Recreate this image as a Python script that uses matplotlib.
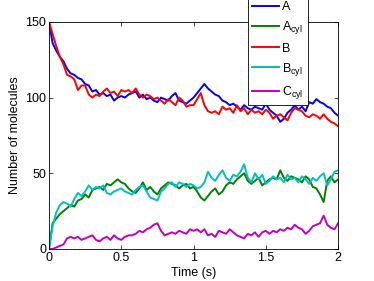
import numpy as np
import matplotlib
matplotlib.use("Agg")
import matplotlib.pyplot as plt

plt.rcParams['font.family'] = ['Liberation Sans', 'DejaVu Sans']
plt.rcParams['mathtext.default'] = 'regular'

# ========== DATA ==========
time = np.linspace(0, 2, 81)

a_free = [150, 136, 131, 127, 124, 119, 116, 115, 113, 112,
          109, 108, 104, 105, 102, 103, 101, 102, 98, 100,
          101, 100, 102, 103, 104, 100, 102, 99, 100, 98,
          97, 100, 99, 98, 101, 103, 98, 97, 96, 98,
          100, 103, 106, 109, 106, 104, 102, 101, 98, 97,
          95, 96, 94, 92, 95, 93, 92, 94, 93, 92,
          96, 92, 90, 88, 84, 86, 90, 92, 95, 92,
          94, 91, 97, 96, 99, 97, 96, 94, 93, 90,
          88]

b_free = [150, 142, 134, 127, 122, 115, 114, 112, 105, 108,
          108, 102, 100, 102, 101, 104, 106, 103, 104, 101,
          105, 104, 105, 103, 106, 102, 100, 102, 101, 99,
          100, 98, 96, 99, 97, 95, 100, 98, 94, 95,
          95, 99, 103, 95, 91, 90, 91, 89, 94, 92,
          93, 90, 95, 91, 93, 89, 92, 90, 91, 89,
          92, 90, 86, 88, 89, 87, 85, 90, 93, 92,
          91, 88, 87, 89, 88, 86, 89, 86, 84, 83,
          81]

a_cyl = [0, 17, 20, 23, 25, 27, 29, 28, 32, 33,
         36, 34, 39, 40, 41, 39, 43, 42, 44, 46,
         44, 43, 40, 38, 37, 40, 44, 39, 41, 38,
         36, 40, 42, 44, 43, 42, 40, 42, 43, 40,
         41, 38, 34, 32, 35, 38, 40, 36, 38, 42,
         44, 43, 46, 48, 50, 45, 43, 45, 47, 42,
         44, 46, 47, 46, 52, 47, 45, 48, 47, 46,
         44, 48, 46, 41, 40, 36, 31, 45, 48, 44,
         46]

b_cyl = [0, 15, 24, 29, 31, 30, 28, 33, 37, 35,
         38, 42, 39, 41, 40, 42, 37, 36, 38, 39,
         40, 38, 37, 36, 39, 41, 42, 38, 34, 33,
         32, 38, 40, 43, 44, 41, 44, 43, 41, 43,
         42, 40, 41, 44, 51, 47, 45, 49, 52, 47,
         45, 49, 48, 51, 56, 47, 44, 50, 46, 49,
         43, 45, 48, 46, 47, 44, 49, 46, 47, 44,
         48, 46, 43, 47, 45, 48, 50, 42, 46, 51,
         52]

c_cyl = [0, 0, 1, 2, 3, 7, 8, 7, 8, 6,
         7, 8, 9, 6, 5, 7, 8, 6, 9, 7,
         6, 8, 9, 9, 10, 12, 11, 13, 14, 16,
         17, 12, 9, 10, 11, 10, 12, 11, 10, 13,
         12, 13, 11, 13, 9, 10, 8, 12, 11, 10,
         13, 11, 9, 8, 7, 10, 9, 11, 8, 11,
         12, 10, 12, 11, 13, 12, 14, 13, 16, 14,
         13, 10, 12, 15, 16, 17, 22, 16, 14, 13,
         17]

series = [
    (a_free, 'A', (0, 0, 1)),
    (a_cyl, 'A$_{cyl}$', (0, 0.5, 0)),
    (b_free, 'B', (1, 0, 0)),
    (b_cyl, 'B$_{cyl}$', (0, 0.75, 0.75)),
    (c_cyl, 'C$_{cyl}$', (0.75, 0, 0.75)),
]

# ========== PLOT ==========
fig = plt.figure(figsize=(3.74, 2.81), dpi=100)
ax = fig.add_axes([0.131, 0.114, 0.773, 0.808])

for values, label, color in series:
    ax.plot(time, values, color=color, linewidth=1.4, label=label)

ax.set_xlim(0, 2)
ax.set_ylim(0, 150)
ax.set_xticks([0, 0.5, 1, 1.5, 2])
ax.set_xticklabels(['0', '0.5', '1', '1.5', '2'])
ax.set_yticks([0, 50, 100, 150])
ax.tick_params(direction='in', top=True, right=True, labelsize=9,
               length=3, width=0.5, pad=2)
for sp in ax.spines.values():
    sp.set_linewidth(0.6)
ax.set_xlabel('Time (s)', fontsize=9, labelpad=2)
ax.set_ylabel('Number of molecules', fontsize=9, labelpad=3)

leg = fig.legend(loc='upper left', bbox_to_anchor=(0.663, 1.012), fontsize=9,
                 frameon=True, fancybox=False, framealpha=1, edgecolor='black',
                 handlelength=2.1, handletextpad=0.3, labelspacing=0.5,
                 borderpad=0.35, borderaxespad=0)
leg.get_frame().set_linewidth(0.6)

fig.savefig('out.png', dpi=100)
